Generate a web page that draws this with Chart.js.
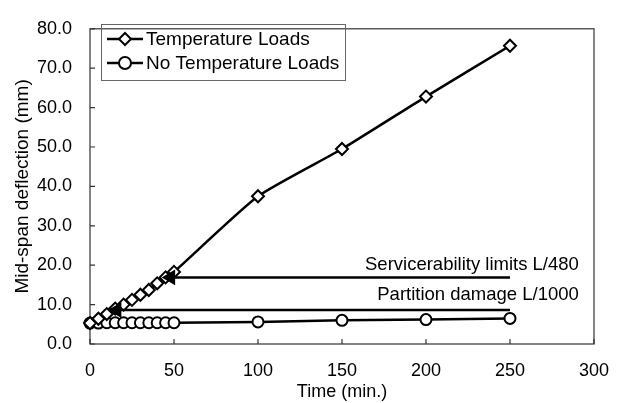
<!DOCTYPE html>
<html>
<head>
<meta charset="utf-8">
<script src="https://cdn.jsdelivr.net/npm/chart.js@4"></script>
<style>
  html, body { margin: 0; padding: 0; background: #fff; }
  #wrap { width: 625px; height: 403px; }
</style>
</head>
<body>
<div id="wrap"><canvas id="myChart"></canvas></div>
<script>
// data
const timeTemp = [0, 5, 10, 15, 20, 25, 30, 35, 40, 45, 50, 100, 150, 200, 250];
const deflTemp = [5.3, 6.4, 7.6, 9.0, 10.0, 11.2, 12.5, 13.7, 15.4, 16.9, 18.3, 37.5, 49.5, 62.8, 75.7];
const timeNoTemp = [0, 5, 10, 15, 20, 25, 30, 35, 40, 45, 50, 100, 150, 200, 250];
const deflNoTemp = [5.3, 5.3, 5.4, 5.4, 5.4, 5.4, 5.4, 5.4, 5.4, 5.4, 5.4, 5.6, 6.0, 6.2, 6.5];
const seriesNames = ['Temperature Loads', 'No Temperature Loads'];

// limit arrows
const serviceX = [48, 250];
const serviceY = 16.9;
const partitionX = [16, 250];
const partitionY = 8.6;
const limitNames = ['Servicerability limits L/480', 'Partition damage L/1000'];

const xTicks = [0, 50, 100, 150, 200, 250, 300];
const yTicks = [0, 10, 20, 30, 40, 50, 60, 70, 80];

const FONT = "'Liberation Sans', Arial, sans-serif";
Chart.defaults.font.family = FONT;
Chart.defaults.color = '#000';
const labelX = 291;

function pts(xs, ys) {
    return xs.map((x, i) => ({ x: x, y: Array.isArray(ys) ? ys[i] : ys }));
}

function drawMarker(ctx, style, x, y, r) {
    ctx.beginPath();
    if (style === 'rectRot') {
        ctx.moveTo(x, y - r); ctx.lineTo(x + r, y); ctx.lineTo(x, y + r); ctx.lineTo(x - r, y);
        ctx.closePath();
    } else {
        ctx.arc(x, y, r, 0, Math.PI * 2);
    }
    ctx.fillStyle = '#fff';
    ctx.fill();
    ctx.stroke();
}

const framePlugin = {
    id: 'frame',
    beforeDatasetsDraw(chart) {
        const { ctx, chartArea: a, scales } = chart;
        ctx.save();
        ctx.strokeStyle = '#333';
        ctx.lineWidth = 1.2;
        ctx.strokeRect(a.left, a.top, a.right - a.left, a.bottom - a.top);
        ctx.beginPath();
        yTicks.forEach(v => {
            const py = scales.y.getPixelForValue(v);
            ctx.moveTo(a.left, py); ctx.lineTo(a.left + 5, py);
        });
        xTicks.forEach(v => {
            const px = scales.x.getPixelForValue(v);
            ctx.moveTo(px, a.bottom); ctx.lineTo(px, a.bottom - 5);
        });
        ctx.stroke();
        ctx.restore();
    },
    afterDraw(chart) {
        const { ctx, scales } = chart;
        ctx.save();
        // limit labels
        ctx.font = '18.5px ' + FONT;
        ctx.fillStyle = '#000';
        ctx.textAlign = 'right';
        ctx.textBaseline = 'middle';
        ctx.fillText(limitNames[0], scales.x.getPixelForValue(labelX), scales.y.getPixelForValue(20.0));
        ctx.fillText(limitNames[1], scales.x.getPixelForValue(labelX), scales.y.getPixelForValue(12.5));

        // legend box
        ctx.strokeStyle = '#666';
        ctx.lineWidth = 1;
        ctx.strokeRect(101.5, 24.5, 244, 56);
        const styles = ['rectRot', 'circle'];
        const rowY = [39, 63];
        ctx.font = '19px ' + FONT;
        ctx.textAlign = 'left';
        for (let i = 0; i < 2; i++) {
            ctx.strokeStyle = '#000';
            ctx.lineWidth = 2.5;
            ctx.beginPath();
            ctx.moveTo(107, rowY[i]); ctx.lineTo(143, rowY[i]);
            ctx.stroke();
            ctx.lineWidth = 2;
            drawMarker(ctx, styles[i], 125, rowY[i], 6);
            ctx.fillStyle = '#000';
            ctx.fillText(seriesNames[i], 146, rowY[i] + 1);
        }
        ctx.restore();
    }
};

const ctx = document.getElementById('myChart');

new Chart(ctx, {
    type: 'line',
    data: {
        datasets: [
            {
                label: seriesNames[0],
                data: pts(timeTemp, deflTemp),
                borderColor: '#000',
                borderWidth: 2.5,
                backgroundColor: '#fff',
                pointStyle: 'rectRot',
                pointRadius: 6,
                pointBorderWidth: 2,
                pointBorderColor: '#000',
                pointBackgroundColor: '#fff',
                tension: 0.18,
                clip: false,
                order: 1
            },
            {
                label: seriesNames[1],
                data: pts(timeNoTemp, deflNoTemp),
                borderColor: '#000',
                borderWidth: 2.5,
                backgroundColor: '#fff',
                pointStyle: 'circle',
                pointRadius: 5.5,
                pointBorderWidth: 2,
                pointBorderColor: '#000',
                pointBackgroundColor: '#fff',
                tension: 0,
                clip: false,
                order: 1
            },
            {
                label: limitNames[0],
                data: pts(serviceX, serviceY),
                borderColor: '#000',
                borderWidth: 2.5,
                pointStyle: 'triangle',
                pointRotation: [-90, 0],
                pointRadius: [9, 0],
                pointBorderWidth: 0,
                pointBackgroundColor: '#000',
                clip: false,
                order: 0
            },
            {
                label: limitNames[1],
                data: pts(partitionX, partitionY),
                borderColor: '#000',
                borderWidth: 2.5,
                pointStyle: 'triangle',
                pointRotation: [-90, 0],
                pointRadius: [9, 0],
                pointBorderWidth: 0,
                pointBackgroundColor: '#000',
                clip: false,
                order: 0
            }
        ]
    },
    options: {
        responsive: true,
        maintainAspectRatio: false,
        animation: false,
        layout: { padding: { top: 17, right: 26, left: 0, bottom: 0 } },
        plugins: {
            legend: { display: false },
            tooltip: { enabled: false }
        },
        scales: {
            x: {
                type: 'linear',
                min: 0,
                max: 300,
                afterBuildTicks: s => { s.ticks = xTicks.map(v => ({ value: v })); },
                afterFit: s => { s.height = 59; },
                grid: { display: false, drawTicks: false },
                border: { display: false },
                ticks: { padding: 16, font: { size: 18 }, maxRotation: 0 },
                title: { display: true, text: 'Time (min.)', font: { size: 18 }, padding: 0 }
            },
            y: {
                type: 'linear',
                min: 0,
                max: 80,
                afterBuildTicks: s => { s.ticks = yTicks.map(v => ({ value: v })); },
                afterFit: s => { s.width = 90; },
                grid: { display: false, drawTicks: false },
                border: { display: false },
                ticks: { padding: 18, font: { size: 18 }, callback: v => v.toFixed(1) },
                title: { display: true, text: 'Mid-span deflection (mm)', font: { size: 19 }, padding: { top: 11, bottom: 0 } }
            }
        }
    },
    plugins: [framePlugin]
});
</script>
</body>
</html>
